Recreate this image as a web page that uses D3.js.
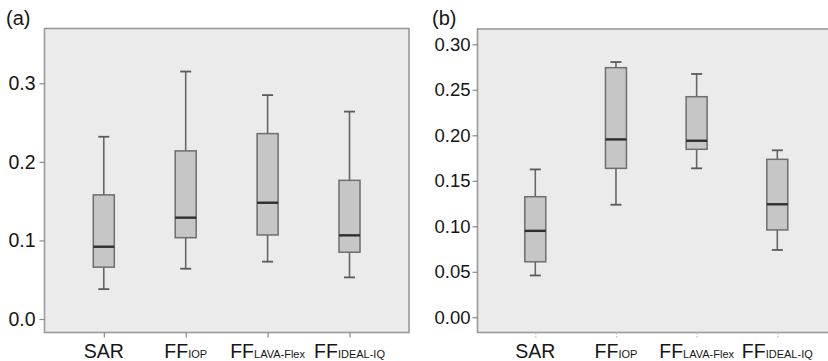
<!DOCTYPE html>
<html>
<head>
<meta charset="utf-8">
<script src="https://cdn.jsdelivr.net/npm/d3@7/dist/d3.min.js"></script>
<style>
  html, body { margin: 0; padding: 0; background: #ffffff; }
  svg { display: block; }
  text { font-family: "Liberation Sans", Arial, sans-serif; fill: #161616; }
</style>
</head>
<body>
<svg id="chart" width="828" height="361"></svg>
<script>
// Categories: [main, subscript]
const categories = [["SAR", ""], ["FF", "IOP"], ["FF", "LAVA-Flex"], ["FF", "IDEAL-IQ"]];
const categoryKeys = ["SAR", "FF_IOP", "FF_LAVA-Flex", "FF_IDEAL-IQ"];

// Panel (a): [min, q1, median, q3, max]
const panelAStats = [
  [0.038, 0.066, 0.092, 0.158, 0.232],
  [0.064, 0.1035, 0.129, 0.214, 0.315],
  [0.073, 0.107, 0.148, 0.236, 0.285],
  [0.053, 0.085, 0.1065, 0.1765, 0.264]
];
const panelATicks = [0.0, 0.1, 0.2, 0.3];

// Panel (b): [min, q1, median, q3, max]
const panelBStats = [
  [0.046, 0.061, 0.095, 0.1325, 0.1625],
  [0.1237, 0.1637, 0.1955, 0.2743, 0.2805],
  [0.1637, 0.1846, 0.194, 0.2424, 0.2674],
  [0.074, 0.096, 0.1242, 0.1736, 0.1835]
];
const panelBTicks = [0.00, 0.05, 0.10, 0.15, 0.20, 0.25, 0.30];

const svg = d3.select("#chart");
const FONT = '"Liberation Sans", Arial, sans-serif';

function drawPanel(cfg) {
  const g = svg.append("g");
  const y = d3.scaleLinear().domain(cfg.yDomain).range([cfg.frame.bottom, cfg.frame.top]);
  const x = d3.scalePoint().domain(categoryKeys).range(cfg.xRange);

  // frame / background
  g.append("rect")
    .attr("x", cfg.frame.left).attr("y", cfg.frame.top)
    .attr("width", cfg.frame.right - cfg.frame.left)
    .attr("height", cfg.frame.bottom - cfg.frame.top)
    .attr("fill", "#ebebeb").attr("stroke", "#9a9a9a").attr("stroke-width", 1.6);

  // y axis
  const yAxis = d3.axisLeft(y).tickValues(cfg.ticks).tickFormat(d3.format(cfg.fmt))
    .tickSize(5).tickPadding(cfg.tickPad);
  const ya = g.append("g").attr("transform", `translate(${cfg.frame.left},0)`).call(yAxis);
  ya.attr("font-size", null).attr("font-family", null);
  ya.select(".domain").remove();
  ya.selectAll(".tick line").attr("stroke", "#8a8a8a").attr("stroke-width", 1.2);
  ya.selectAll(".tick text").attr("fill", "#161616")
    .style("font-size", cfg.yFont).style("font-family", FONT);

  // x axis
  const xAxis = d3.axisBottom(x).tickSize(5).tickFormat("");
  const xa = g.append("g").attr("transform", `translate(0,${cfg.frame.bottom})`).call(xAxis);
  xa.select(".domain").remove();
  xa.selectAll(".tick line").attr("stroke", cfg.xTickColor).attr("stroke-width", 1.2)
    .attr("stroke-dasharray", cfg.xTickDash);

  // x labels
  const lab = g.selectAll("text.xl").data(categories).join("text")
    .attr("class", "xl")
    .attr("x", (d, i) => x(categoryKeys[i]))
    .attr("y", 358)
    .attr("text-anchor", "middle");
  lab.append("tspan").style("font-size", "19.5px").text(d => d[0]);
  lab.append("tspan").style("font-size", "11px").text(d => d[1]);

  // boxes
  const boxW = 21, capW = 11;
  const bx = g.selectAll("g.box").data(cfg.stats).join("g").attr("class", "box");
  // whiskers
  bx.append("line")
    .attr("x1", (d, i) => x(categoryKeys[i])).attr("x2", (d, i) => x(categoryKeys[i]))
    .attr("y1", d => y(d[0])).attr("y2", d => y(d[1]))
    .attr("stroke", "#666").attr("stroke-width", 1.6);
  bx.append("line")
    .attr("x1", (d, i) => x(categoryKeys[i])).attr("x2", (d, i) => x(categoryKeys[i]))
    .attr("y1", d => y(d[3])).attr("y2", d => y(d[4]))
    .attr("stroke", "#666").attr("stroke-width", 1.6);
  // caps
  [0, 4].forEach(k => {
    bx.append("line")
      .attr("x1", (d, i) => x(categoryKeys[i]) - capW / 2).attr("x2", (d, i) => x(categoryKeys[i]) + capW / 2)
      .attr("y1", d => y(d[k])).attr("y2", d => y(d[k]))
      .attr("stroke", "#5a5a5a").attr("stroke-width", 1.8);
  });
  // box
  bx.append("rect")
    .attr("x", (d, i) => x(categoryKeys[i]) - boxW / 2)
    .attr("width", boxW)
    .attr("y", d => y(d[3]))
    .attr("height", d => y(d[1]) - y(d[3]))
    .attr("fill", "#c6c6c6").attr("stroke", "#6e6e6e").attr("stroke-width", 1.5);
  // median
  bx.append("line")
    .attr("x1", (d, i) => x(categoryKeys[i]) - boxW / 2).attr("x2", (d, i) => x(categoryKeys[i]) + boxW / 2)
    .attr("y1", d => y(d[2])).attr("y2", d => y(d[2]))
    .attr("stroke", "#2e2e2e").attr("stroke-width", 2.4);

  // panel label
  g.append("text").attr("x", cfg.labelX).attr("y", 25).style("font-size", "20px").text(cfg.label);
}

drawPanel({
  label: "(a)", labelX: 6,
  frame: { left: 44.5, right: 409, top: 28.5, bottom: 332.5 },
  yDomain: [(319 - 332.5) / 785.6, (319 - 28.5) / 785.6],
  ticks: panelATicks, fmt: ".1f", tickPad: 4, yFont: "19.5px",
  xRange: [103.8, 349.5],
  stats: panelAStats,
  xTickColor: "#8a8a8a", xTickDash: null
});

drawPanel({
  label: "(b)", labelX: 432,
  frame: { left: 477.5, right: 836, top: 29, bottom: 332.5 },
  yDomain: [(317.3 - 332.5) / 910, (317.3 - 29) / 910],
  ticks: panelBTicks, fmt: ".2f", tickPad: 2, yFont: "18.5px",
  xRange: [535.3, 777.3],
  stats: panelBStats,
  xTickColor: "#bdbdbd", xTickDash: "2,1.5"
});
</script>
</body>
</html>
